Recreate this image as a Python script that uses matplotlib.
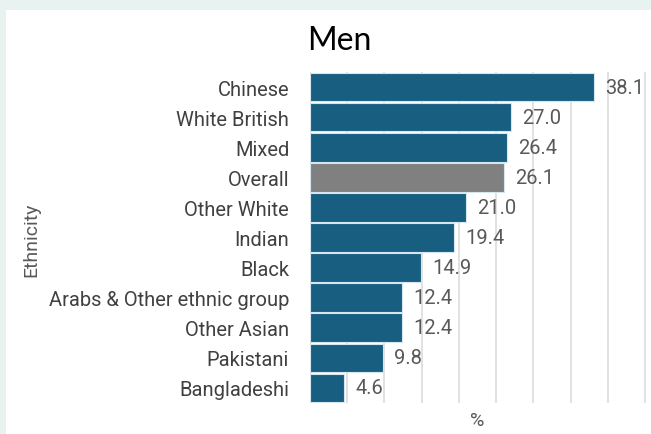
import matplotlib.pyplot as plt
from matplotlib.patches import Rectangle

groups = ['Chinese', 'White British', 'Mixed', 'Overall', 'Other White', 'Indian',
          'Black', 'Arabs & Other ethnic group', 'Other Asian', 'Pakistani', 'Bangladeshi']
values = [38.1, 27.0, 26.4, 26.1, 21.0, 19.4, 14.9, 12.4, 12.4, 9.8, 4.6]

blue = '#185e80'
grey = '#808080'
colors = [grey if g == 'Overall' else blue for g in groups]

plt.rcParams['font.family'] = ['Roboto', 'DejaVu Sans']

fig = plt.figure(figsize=(6.51, 4.35), dpi=100)
fig.patch.set_facecolor('#e8f3f1')
# white panel
fig.patches.append(Rectangle((6/651, 0), 1, 1 - 11/435, transform=fig.transFigure,
                             facecolor='white', edgecolor='none', zorder=-10))

ax = fig.add_axes([310/651, 31/435, 341/651, 331/435])
ax.set_facecolor('none')

y = list(range(len(groups)))
ax.barh(y, values, height=0.95, color=colors, edgecolor='#d6e6ee', linewidth=0.8, zorder=3)
for yi, v in zip(y, values):
    ax.text(v + 1.5, yi, f'{v:.1f}', va='center', ha='left', fontsize=14.5,
            color='#595959', zorder=4)

ax.set_xlim(0, 45.8)
ax.set_ylim(len(groups) - 0.5, -0.5)
ax.set_xticks(range(0, 50, 5))
ax.set_xticklabels([])
ax.tick_params(axis='x', length=0)
ax.grid(axis='x', color='#dcdcdc', linewidth=1.2, zorder=0)
ax.set_yticks(y)
ax.set_yticklabels(groups, fontsize=14.5, color='#404040')
ax.tick_params(axis='y', length=0, pad=15)
for s in ax.spines.values():
    s.set_visible(False)

fig.text(477/651, 1 - 421/435, '%', ha='center', va='center', fontsize=14, color='#595959')
fig.text(31/651, 1 - 240/435, 'Ethnicity', rotation=90, ha='center', va='center',
         fontsize=14, color='#595959')
fig.text(339/651, 1 - 41/435, 'Men', ha='center', va='center', fontsize=23,
         color='black', family=['Lato', 'DejaVu Sans'])

fig.savefig('out.png', dpi=100, facecolor=fig.get_facecolor())
